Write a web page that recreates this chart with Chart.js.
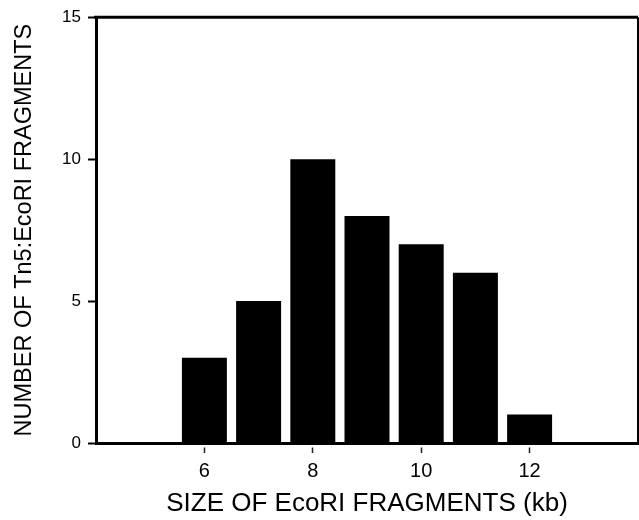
<!DOCTYPE html>
<html>
<head>
<meta charset="utf-8">
<script src="https://cdn.jsdelivr.net/npm/chart.js@4"></script>
<style>
  html, body { margin: 0; padding: 0; background: #fff; }
  #wrap { width: 639px; height: 520px; }
</style>
</head>
<body>
<div id="wrap"><canvas id="chart" width="639" height="520"></canvas></div>
<script>
// fragment sizes (kb) and counts
const fragmentSizes = [6, 7, 8, 9, 10, 11, 12];
const fragmentCounts = [3, 5, 10, 8, 7, 6, 1];
const xTicks = [6, 8, 10, 12];
const yTicks = [0, 5, 10, 15];

const sans = "'Liberation Sans', Arial, Helvetica, sans-serif";

// top and right edges of the frame
const framePlugin = {
    id: 'frame',
    afterDraw(chart) {
        const { ctx, chartArea } = chart;
        ctx.save();
        ctx.strokeStyle = '#000';
        ctx.lineWidth = 3;
        ctx.beginPath();
        ctx.moveTo(chartArea.left - 2, chartArea.top);
        ctx.lineTo(chartArea.right, chartArea.top);
        ctx.stroke();
        ctx.lineWidth = 2;
        ctx.beginPath();
        ctx.moveTo(chartArea.right, chartArea.top);
        ctx.lineTo(chartArea.right, chartArea.bottom);
        ctx.stroke();
        ctx.restore();
    }
};

new Chart(document.getElementById('chart'), {
    type: 'bar',
    data: {
        datasets: [{
            data: fragmentSizes.map((s, i) => ({ x: s, y: fragmentCounts[i] })),
            backgroundColor: '#000',
            borderWidth: 0,
            barPercentage: 0.83,
            categoryPercentage: 1
        }]
    },
    options: {
        responsive: false,
        animation: false,
        layout: { padding: { top: 15, right: 1, left: 0, bottom: 0 } },
        plugins: {
            legend: { display: false },
            tooltip: { enabled: false }
        },
        scales: {
            x: {
                type: 'linear',
                min: 4,
                max: 14,
                offset: false,
                afterBuildTicks: s => { s.ticks = xTicks.map(v => ({ value: v })); },
                afterFit: s => { s.height = 77; },
                border: { display: true, color: '#000', width: 3 },
                grid: {
                    offset: false,
                    drawOnChartArea: false,
                    drawTicks: true,
                    tickLength: 10,
                    tickColor: '#222',
                    tickWidth: 1.5,
                    tickBorderDash: [0, 2.5, 30, 0]
                },
                ticks: {
                    color: '#000',
                    padding: 6,
                    maxRotation: 0,
                    font: { family: sans, size: 20 }
                },
                title: {
                    display: true,
                    text: 'SIZE OF EcoRI FRAGMENTS (kb)',
                    color: '#000',
                    padding: { top: 0, bottom: 3 },
                    font: { family: sans, size: 26, lineHeight: 1 }
                }
            },
            y: {
                min: 0,
                max: 15,
                afterBuildTicks: s => { s.ticks = yTicks.map(v => ({ value: v })); },
                afterFit: s => { s.width = 96; },
                border: { display: true, color: '#000', width: 3 },
                grid: {
                    drawOnChartArea: false,
                    drawTicks: true,
                    tickLength: 8,
                    tickColor: '#000',
                    tickWidth: 2
                },
                ticks: {
                    color: '#000',
                    padding: 7,
                    font: { family: sans, size: 17 }
                },
                title: {
                    display: true,
                    text: 'NUMBER OF Tn5:EcoRI FRAGMENTS',
                    color: '#000',
                    padding: { top: 13, bottom: 0 },
                    font: { family: sans, size: 23.5, lineHeight: 1 }
                }
            }
        }
    },
    plugins: [framePlugin]
});
</script>
</body>
</html>
